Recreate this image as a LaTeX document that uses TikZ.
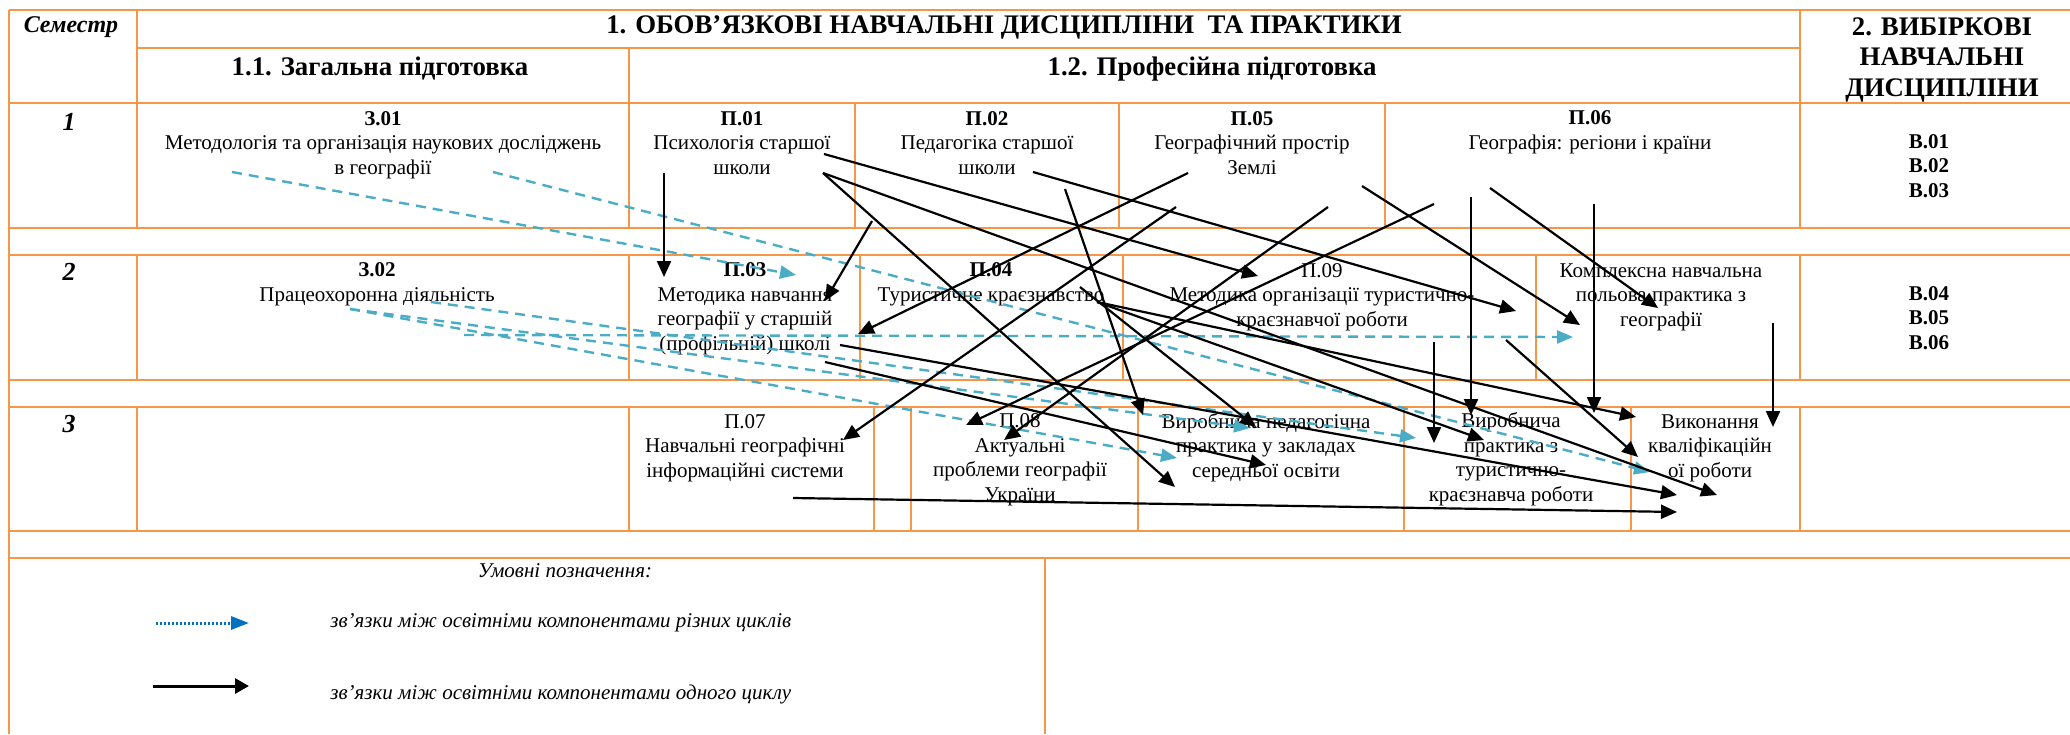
\documentclass[tikz,border=0pt]{standalone}
\usepackage{fontspec}
\setmainfont{Liberation Serif}
\usetikzlibrary{arrows.meta}
\definecolor{tableorange}{HTML}{F79646}
\definecolor{linkblue}{HTML}{4BACC6}
\definecolor{legendblue}{HTML}{0070C0}
\begin{document}
\begin{tikzpicture}[x=0.5pt,y=-0.5pt,
    tabline/.style={draw=tableorange,line width=1pt},
    cell/.style={align=center,inner sep=0pt,anchor=base,font=\fontsize{10.5}{12.25}\selectfont},
    head/.style={align=center,inner sep=0pt,anchor=base,font=\fontsize{13.4}{15.25}\selectfont\bfseries},
    semno/.style={inner sep=0pt,anchor=base,font=\fontsize{13}{15}\selectfont\bfseries\itshape},
    legtext/.style={inner sep=0pt,anchor=base west,font=\fontsize{10.5}{12.25}\selectfont\itshape},
    link/.style={line width=1.1pt,-{Triangle[length=8pt,width=7pt]}},
    crosslink/.style={linkblue,line width=1.2pt,dash pattern=on 5pt off 3.5pt,-{Triangle[length=8pt,width=6.5pt]}}]
    \useasboundingbox (0,0) rectangle (2070,734);
    \foreach \y in {10,103,228,255,380,407,531,558}
        \draw[tabline] (9,\y) -- (2070,\y);
    \draw[tabline] (137,48) -- (1800,48);
    \draw[tabline] (9,10) -- (9,734);
    \draw[tabline] (137,10) -- (137,228);
    \draw[tabline] (629,48) -- (629,228);
    \draw[tabline] (1800,10) -- (1800,228);
    \foreach \x in {137,629,1800} {
        \draw[tabline] (\x,255) -- (\x,380);
        \draw[tabline] (\x,407) -- (\x,531);
    }
    \foreach \x in {855,1119,1385}
        \draw[tabline] (\x,103) -- (\x,228);
    \foreach \x in {860,1123,1536}
        \draw[tabline] (\x,255) -- (\x,380);
    \foreach \x in {874,911,1138,1404,1631}
        \draw[tabline] (\x,407) -- (\x,531);
    \draw[tabline] (1045,558) -- (1045,734);

    \node[inner sep=0pt,anchor=base,font=\fontsize{12}{14}\selectfont\bfseries\itshape] (sem) at (71,32) {Семестр};
    \node[head] (oblig) at (1004,33) {1. ОБОВ’ЯЗКОВІ НАВЧАЛЬНІ ДИСЦИПЛІНИ \ ТА ПРАКТИКИ};
    \node[head] (gen) at (380,75) {1.1. Загальна підготовка};
    \node[head] (prof) at (1212,75) {1.2. Професійна підготовка};
    \node[head] (vyb) at (1942,96) {2. ВИБІРКОВІ\\НАВЧАЛЬНІ\\ДИСЦИПЛІНИ};

    \node[semno] (s1) at (69,130) {1};
    \node[semno] (s2) at (69,280) {2};
    \node[semno] (s3) at (69,432) {3};

    \node[cell] (z01) at (383,174) {\textbf{З.01}\\Методологія та організація наукових досліджень\\в географії};
    \node[cell] (p01) at (742,174) {\textbf{П.01}\\Психологія старшої\\школи};
    \node[cell] (p02) at (987,174) {\textbf{П.02}\\Педагогіка старшої\\школи};
    \node[cell] (p05) at (1252,174) {\textbf{П.05}\\Географічний простір\\Землі};
    \node[cell] (p06) at (1590,149) {\textbf{П.06}\\Географія: регіони і країни};
    \node[cell,font=\fontsize{10.5}{12.25}\selectfont\bfseries] (v1) at (1929,197) {В.01\\В.02\\В.03};

    \node[cell] (z02) at (377,301) {\textbf{З.02}\\Працеохоронна діяльність};
    \node[cell] (p03) at (745,350) {\textbf{П.03}\\Методика навчання\\географії у старшій\\(профільній) школі};
    \node[cell] (p04) at (991,301) {\textbf{П.04}\\Туристичне краєзнавство};
    \node[cell] (p09) at (1322,326) {П.09\\Методика організації туристично-\\краєзнавчої роботи};
    \node[cell] (komp) at (1661,326) {Комплексна навчальна\\польова практика з\\географії};
    \node[cell,font=\fontsize{10.5}{12.25}\selectfont\bfseries] (v2) at (1929,349) {В.04\\В.05\\В.06};

    \node[cell] (p07) at (745,477) {П.07\\Навчальні географічні\\інформаційні системи};
    \node[cell] (p08) at (1020,501) {П.08\\Актуальні\\проблеми географії\\України};
    \node[cell] (vpp) at (1266,477) {Виробнича педагогічна\\практика у закладах\\середньої освіти};
    \node[cell] (vptk) at (1511,501) {Виробнича\\практика з\\туристично-\\краєзнавча роботи};
    \node[cell] (vyk) at (1710,477) {Виконання\\кваліфікаційн\\ої роботи};

    \foreach \n/\x/\y in {p01v/664/173, p03top/664/277, p01r/824/154, p09l/1258/276,
        p01s/823/173, vyk1/1717/495, vpp1/1175/487, p02l/872/221, p03r1/825/301,
        p05l/1188/173, p03r2/858/334, p02r/1033/172, p09r/1516/311,
        p05r/1362/186, komp1/1580/325, p06a/1490/188, komp2/1658/308,
        p06b/1471/197, vptk1/1471/415, p06c/1594/204, vptk2/1594/413,
        kompv/1773/323, vyk2/1773/427, p06d/1434/204, p08a/966/425,
        p05m/1328/207, p08b/1004/440, p05k/1176/207, p07a/843/440,
        p02m/1065/189, vpp2/1143/415, p04a/1080/287, vpp3/1256/427,
        p04b/1097/302, vyk3/1636/417, p07r/793/498, vyk4/1677/512,
        p03a/840/345, vyk5/1677/495, p03b/825/362, vpp4/1266/465,
        vptk3/1484/440, p09v/1434/342, vptk4/1434/443, p09s/1506/340, vyk6/1638/457,
        z01a/232/172, p03c/796/275, z02h/464/335, komp3/1573/337,
        z02a/350/309, vpp5/1250/428, vpp6/1177/458, z02b/431/302, vptk5/1416/438,
        z01b/493/172, vyk7/1650/472}
        \coordinate (\n) at (\x,\y);

    \foreach \a/\b in {z01a/p03c, z02h/komp3, z02a/vpp5, z02a/vpp6, z02b/vptk5, z01b/vyk7}
        \draw[crosslink] (\a) -- (\b);

    \foreach \a/\b in {p01v/p03top, p01r/p09l, p01s/vyk1, p01s/vpp1, p02l/p03r1,
        p05l/p03r2, p02r/p09r, p05r/komp1, p06a/komp2, p06b/vptk1, p06c/vptk2,
        kompv/vyk2, p06d/p08a, p05m/p08b, p05k/p07a, p02m/vpp2, p04a/vpp3,
        p04b/vyk3, p07r/vyk4, p03a/vyk5, p03b/vpp4, p04b/vptk3, p09v/vptk4, p09s/vyk6}
        \draw[link] (\a) -- (\b);

    \node[inner sep=0pt,anchor=base,font=\fontsize{10.5}{12.25}\selectfont\itshape] (legtitle) at (565,577) {Умовні позначення:};
    \coordinate (leg1a) at (156,623);
    \coordinate (leg1b) at (249,623);
    \coordinate (leg2a) at (153,686);
    \coordinate (leg2b) at (249,686);
    \draw[legendblue,line width=1.5pt,dash pattern=on 1pt off 1pt,-{Triangle[length=9pt,width=6.5pt]}] (leg1a) -- (leg1b);
    \draw[line width=1.5pt,-{Triangle[length=7pt,width=7.5pt]}] (leg2a) -- (leg2b);
    \node[legtext] (leg1) at (330,627) {зв’язки між освітніми компонентами різних циклів};
    \node[legtext] (leg2) at (330,699) {зв’язки між освітніми компонентами одного циклу};
\end{tikzpicture}
\end{document}
